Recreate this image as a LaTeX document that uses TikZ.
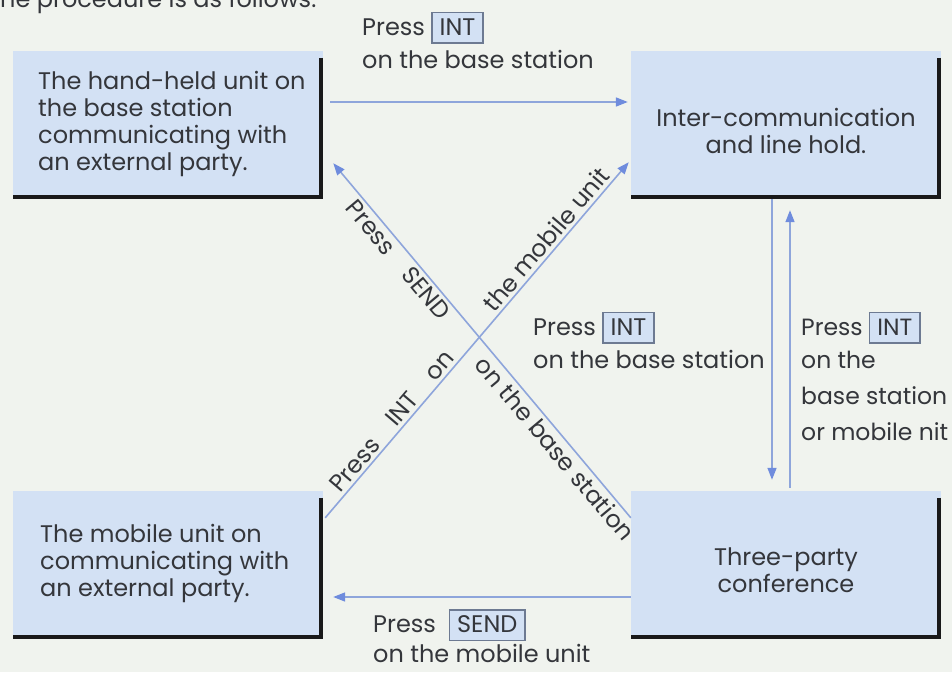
\documentclass[tikz,border=0pt]{standalone}
\usepackage{fontspec}
\setmainfont{Poppins}
\usetikzlibrary{arrows.meta,calc}
\definecolor{pagebg}{HTML}{F0F3EE}
\definecolor{statefill}{HTML}{D3E1F4}
\definecolor{flowline}{HTML}{8EA5DB}
\definecolor{flowhead}{HTML}{6F8CDD}
\definecolor{ink}{HTML}{34363B}
\definecolor{keyedge}{HTML}{6D7A92}
\newcommand{\keycap}[1]{{\setlength{\fboxsep}{3pt}\setlength{\fboxrule}{1.3pt}\fcolorbox{keyedge}{statefill}{\hspace{4pt}\rule[-4pt]{0pt}{23pt}#1\hspace{4pt}}}}
\begin{document}
\begin{tikzpicture}[x=1pt,y=1pt,
  every node/.style={text=ink},
  state/.style={fill=statefill, minimum width=310pt, minimum height=148pt, inner sep=0pt, draw=none},
  boxtext/.style={inner sep=0pt, font=\fontsize{24}{27}\selectfont},
  lbl/.style={inner sep=0pt, align=left, anchor=north west, font=\fontsize{24}{33}\selectfont},
  diag/.style={inner sep=3pt, sloped, font=\fontsize{24}{27}\selectfont},
  flow/.style={draw=flowline, line width=1.6pt, -{Triangle[length=12pt,width=9pt,color=flowhead]}},
  shadowline/.style={line width=4.5pt, draw=black!90, line join=miter}
]
\useasboundingbox[fill=pagebg] (0,0) rectangle (952,672);

\node[anchor=base west, inner sep=0pt, font=\fontsize{24}{27}\selectfont] (intro) at (-13,664) {The procedure is as follows:};

\node[state] (b1) at (168,547) {};
\node[state] (b2) at (786,547) {};
\node[state] (b3) at (168,107) {};
\node[state] (b4) at (786,107) {};
\foreach \b in {b1,b2,b3,b4}
  \draw[shadowline] ([shift={(-2,-7)}]\b.north east) -- ([shift={(-2,2)}]\b.south east) -- ([yshift=2]\b.south west);

\node[boxtext, anchor=north west, align=left] (t1) at (38,601) {The hand-held unit on\\the base station\\communicating with\\an external party.};
\node[boxtext, align=center] (t2) at ([yshift=-6]b2.center) {Inter-communication\\and line hold.};
\node[boxtext, anchor=north west, align=left] (t3) at (40,148) {The mobile unit on\\communicating with\\an external party.};
\node[boxtext, align=center] (t4) at ([yshift=-5]b4.center) {Three-party\\conference};

\node[lbl] (l1) at (362,660) {Press \keycap{INT}\\on the base station};
\node[lbl] (l2) at (533,360) {Press \keycap{INT}\\on the base station};
\node[lbl, font=\fontsize{23.5}{33}\selectfont] (l3) at (801,360) {Press \keycap{INT}\\on the\\[3pt]base station\\[3pt]or mobile nit};
\node[lbl, font=\fontsize{24}{30}\selectfont] (l4) at (373,63) {Press\ \ \keycap{SEND}\\on the mobile unit};

\draw[flow] ([shift={(7,23)}]b1.east) -- ([shift={(-3,23)}]b2.west);
\draw[flow] ([yshift=-27]b4.north west) -- ([shift={(10,36)}]b1.south east)
  node[diag, below, pos=0.75] (d1) {Press\quad SEND}
  node[diag, below, pos=0.22] (d2) {on the base station};
\draw[flow] ([shift={(2,-27)}]b3.north east) -- ([shift={(-2,37)}]b2.south west)
  node[diag, above, pos=0.25] (d3) {Press\quad INT\quad on}
  node[diag, above, pos=0.76] (d4) {the mobile unit};
\draw[flow] ([xshift=-14]b2.south) -- ([shift={(-14,11)}]b4.north);
\draw[flow] ([shift={(4,3)}]b4.north) -- ([shift={(4,-11)}]b2.south);
\draw[flow] ([yshift=-32]b4.west) -- ([shift={(10,-32)}]b3.east);
\end{tikzpicture}
\end{document}
